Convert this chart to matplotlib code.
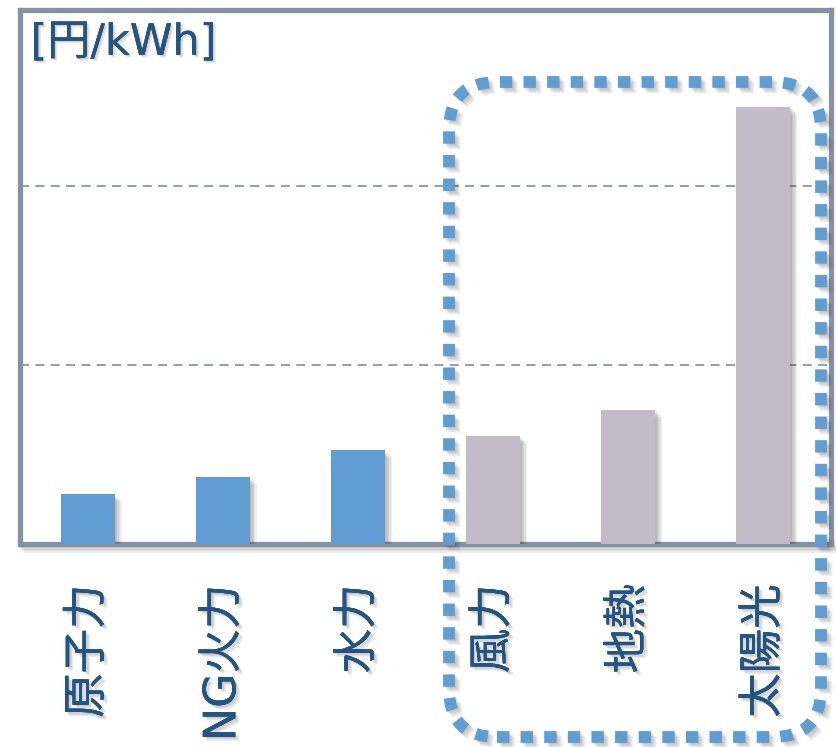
import matplotlib
matplotlib.use("Agg")
import matplotlib.pyplot as plt
import matplotlib.patheffects as pe
from matplotlib.patches import FancyBboxPatch
from matplotlib.transforms import IdentityTransform

plt.rcParams['font.family'] = ['DejaVu Sans', 'Noto Sans CJK JP']

categories = ["原子力", "NG火力", "水力", "風力", "地熱", "太陽光"]
values = [5.6, 7.5, 10.5, 12.1, 15.0, 48.9]
colors = ["#5f9dd2", "#5f9dd2", "#5f9dd2", "#c3bbc8", "#c3bbc8", "#c3bbc8"]
grid_values = [20, 40]
unit_label = "[円/kWh]"

W, H, DPI = 836, 747, 100
fig = plt.figure(figsize=(W / DPI, H / DPI), dpi=DPI)
ax = fig.add_axes([20 / W, (H - 544) / H, 811 / W, 534 / H])


def soft_patch_shadow(n=4, alpha=0.09):
    effs = [pe.withSimplePatchShadow(offset=(i, -i), shadow_rgbFace="#333333", alpha=alpha)
            for i in range(n, 0, -1)]
    return effs + [pe.Normal()]


def soft_line_shadow(n=4, alpha=0.09):
    effs = [pe.SimpleLineShadow(offset=(i, -i), shadow_color="#333333", alpha=alpha)
            for i in range(n, 0, -1)]
    return effs + [pe.Normal()]


x = list(range(len(categories)))
bars = ax.bar(x, values, width=0.4, color=colors, zorder=3)
for b in bars:
    b.set_path_effects(soft_patch_shadow(5, 0.08))

ax.set_xlim(-0.5, len(categories) - 0.5)
ax.set_ylim(0, 59.7)
for g in grid_values:
    ax.axhline(g, color="#8a95a5", lw=1.3, ls=(0, (5, 3.5)), zorder=1)

ax.set_yticks([])
ax.set_xticks(x)
ax.set_xticklabels(categories, rotation=90, fontsize=32, color="#245580", va="top")
ax.tick_params(axis="x", length=0, pad=29)
for t in ax.get_xticklabels():
    t.set_path_effects(soft_patch_shadow(3, 0.1))

for s in ax.spines.values():
    s.set_color("#8592a3")
    s.set_linewidth(3.8)
ax.spines["bottom"].set_path_effects(soft_line_shadow(4, 0.08))

ax.text(0.013, 0.978, unit_label, transform=ax.transAxes, ha="left", va="top",
        fontsize=31, color="#245580", path_effects=soft_patch_shadow(2, 0.12))

# dotted rounded highlight box (pixel coords, origin bottom-left)
bx0, bx1 = 449, 821
by_top, by_bot = 82, 737
box = FancyBboxPatch((bx0, H - by_bot), bx1 - bx0, by_bot - by_top,
                     boxstyle="round,pad=0,rounding_size=48",
                     transform=IdentityTransform(), fill=False,
                     edgecolor="#5f9dd2", lw=8.5, ls=(0, (1.05, 0.95)),
                     capstyle="butt", zorder=10)
box.set_path_effects(soft_line_shadow(4, 0.08))
fig.add_artist(box)

fig.savefig("out.png", dpi=DPI)
